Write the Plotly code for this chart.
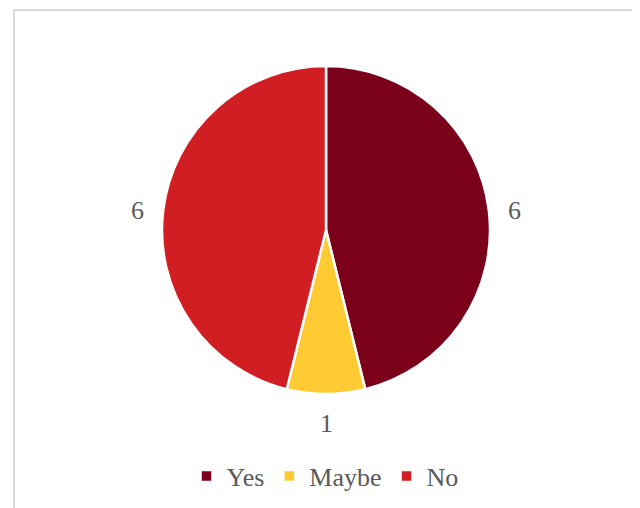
import math
import plotly.graph_objects as go

labels = ["Yes", "Maybe", "No"]
values = [6, 1, 6]
colors = ["#7B001A", "#FFCA32", "#D01E23"]

FONT = "Liberation Serif"
GREY = "#595959"
W, H = 640, 508
OFF = 8  # page body margin offset

# pie geometry (pixels in page coords, compensated for body margin)
CX, CY, R = 326 - OFF, 230 - OFF, 164
LABEL_R = 190
LABEL_DY = 3

fig = go.Figure(go.Pie(
    labels=labels,
    values=values,
    sort=False,
    direction="clockwise",
    rotation=0,
    marker=dict(colors=colors, line=dict(color="white", width=2.5)),
    textinfo="none",
    hoverinfo="label+value",
    domain=dict(x=[(CX - R) / W, (CX + R) / W], y=[1 - (CY + R) / H, 1 - (CY - R) / H]),
))

# value labels placed outside each slice at its mid angle
total = sum(values)
cum = 0
annotations = []
for v in values:
    mid = (cum + v / 2) / total * 2 * math.pi
    cum += v
    px = CX + LABEL_R * math.sin(mid)
    py = CY - LABEL_R * math.cos(mid) + LABEL_DY
    annotations.append(dict(
        x=px / W, y=1 - py / H, xref="paper", yref="paper",
        text=str(v), showarrow=False, xanchor="center", yanchor="middle",
        font=dict(family=FONT, size=26, color=GREY),
    ))

fig.update_layout(
    width=W, height=H,
    margin=dict(l=0, r=0, t=0, b=0),
    paper_bgcolor="white",
    showlegend=True,
    legend=dict(
        orientation="h", x=(325 - OFF) / W, xanchor="center", y=1 - (476 - OFF) / H, yanchor="middle",
        font=dict(family=FONT, size=26, color=GREY),
        traceorder="normal",
    ),
    annotations=annotations,
    shapes=[dict(type="rect", xref="paper", yref="paper",
                 x0=(14 - OFF) / W, x1=(637 - OFF) / W, y0=-0.05, y1=1 - (10 - OFF) / H,
                 line=dict(color="#D9D9D9", width=2), fillcolor="rgba(0,0,0,0)")],
)

fig.write_html("out.html")
